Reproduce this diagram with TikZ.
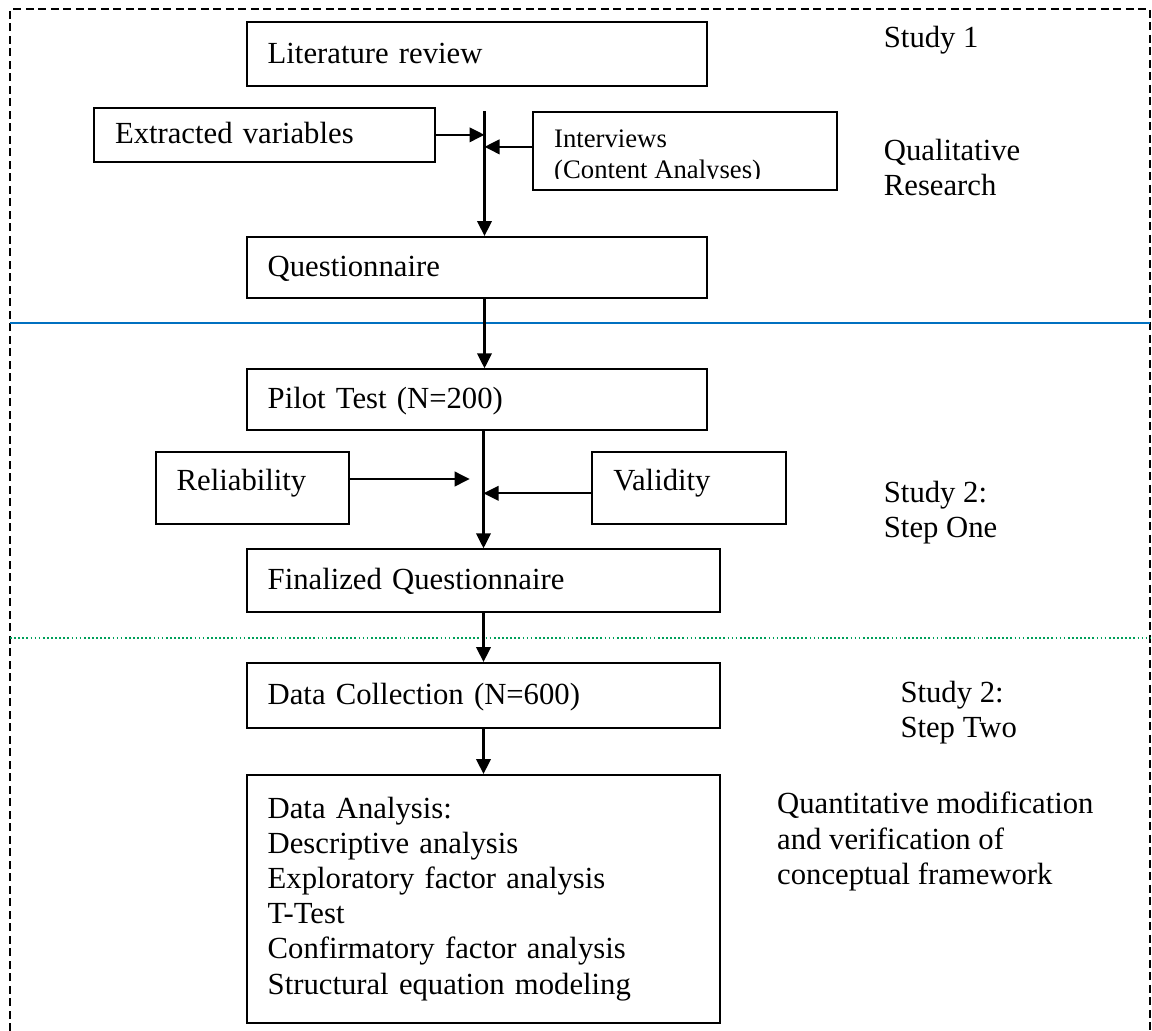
\documentclass[tikz,border=0pt]{standalone}
\usepackage{fontspec}
\setmainfont{Liberation Serif}
\usetikzlibrary{arrows.meta}
\newcommand\mainfs{\fontsize{30.7}{35.2}\selectfont}
\newcommand\smallfs{\fontsize{26.7}{31.7}\selectfont}
\definecolor{splitblue}{RGB}{0,112,192}
\definecolor{splitgreen}{RGB}{0,160,90}
\begin{document}
\begin{tikzpicture}[x=1pt,y=-1pt,
  box/.style={draw, line width=2pt, rectangle, inner xsep=21pt, inner ysep=0pt,
    align=left, text height=25pt, text depth=7pt, font=\mainfs},
  boxm/.style={draw, line width=2pt, rectangle, inner xsep=21pt, inner ysep=0pt,
    align=left, font=\mainfs},
  lbl/.style={inner sep=0pt, anchor=west, align=left, font=\mainfs},
  arr/.style={line width=2.2pt, -{Triangle[length=15pt,width=14.5pt]}},
  border/.style={line width=1.7pt, dash pattern=on 8pt off 4.5pt},
  blueline/.style={line width=2.2pt, draw=splitblue},
  greenline/.style={line width=1.7pt, draw=splitgreen, dash pattern=on 1.7pt off 2.4pt}
]
\useasboundingbox (0,0) rectangle (1152,1031);

% outer dashed frame (open at the bottom)
\draw[border] (10,1031) -- (10,9.3) -- (1150.3,9.3) -- (1150.3,1031);

% separators
\coordinate (bl) at (10,323.3);
\coordinate (br) at (1150.3,323.3);
\coordinate (gl) at (10,637.7);
\coordinate (gr) at (1150.3,637.7);
\draw[blueline] (bl) -- (br);
\draw[greenline] (gl) -- (gr);

% boxes
\node[box, minimum width=460.6pt, minimum height=63.7pt, text width=418.6pt] (lr) at (477,54.2) {Literature review};
\node[box, minimum width=340.7pt, minimum height=54.3pt, text width=298.7pt] (ev) at (264.35,134.85) {Extracted variables};
\node[box, minimum width=304.3pt, minimum height=78.3pt, text width=262.3pt] (iv) at (684.85,150.85) {};
\begin{scope}
  \clip (533.7,112.7) rectangle (836,178.5);
  \node[inner sep=0pt, anchor=west, align=left, font=\smallfs] (ivt) at (554,157) {Interviews\\(Content Analyses)};
\end{scope}
\node[box, minimum width=460.6pt, minimum height=61.3pt, text width=418.6pt] (q) at (477,267.65) {Questionnaire};
\node[box, minimum width=460.6pt, minimum height=60.7pt, text width=418.6pt] (p) at (477,399.65) {Pilot Test (N=200)};
\node[box, minimum width=193.6pt, minimum height=72.6pt, text width=151.6pt, text height=21pt, text depth=17pt] (rel) at (252.5,488) {Reliability};
\node[box, minimum width=194pt, minimum height=72.6pt, text width=152pt, text height=21pt, text depth=17pt] (val) at (689.3,488) {Validity};
\node[box, minimum width=473pt, minimum height=62.4pt, text width=431pt] (fq) at (483.2,580.5) {Finalized Questionnaire};
\node[box, minimum width=473pt, minimum height=64.7pt, text width=431pt] (dc) at (483.2,695.35) {Data Collection (N=600)};
\node[boxm, minimum width=473pt, minimum height=247.7pt, text width=431pt] (da) at (483.2,898.85) {Data Analysis:\\Descriptive analysis\\Exploratory factor analysis\\T-Test\\Confirmatory factor analysis\\Structural equation modeling};

% right-hand labels
\node[lbl] (s1) at (883.7,40.5) {Study 1};
\node[lbl] (qr) at (883.7,167.5) {Qualitative\\Research};
\node[lbl] (s2a) at (883.7,513) {Study 2:\\Step One};
\node[lbl] (s2b) at (900.3,712.5) {Study 2:\\Step Two};
\node[lbl] (qm) at (777,841.5) {Quantitative modification\\and verification of\\conceptual framework};

% connectors
\coordinate (j1) at (484.5,111);
\coordinate (j2) at (483.5,430);
\coordinate (rt) at (469.7,479);
\draw[arr] (j1) -- (j1 |- q.north);
\draw[arr] (ev.east) -- (ev.east -| j1);
\draw[arr] ([yshift=4pt]iv.west) -- ([yshift=4pt]iv.west -| j1);
\draw[arr] (j1 |- q.south) -- (j1 |- p.north);
\draw[arr] (j2 |- p.south) -- (j2 |- fq.north);
\draw[arr] ([yshift=9pt]rel.east) -- (rt);
\draw[arr] ([yshift=-5.3pt]val.west) -- ([yshift=-5.3pt]val.west -| j2);
\draw[arr] (j2 |- fq.south) -- (j2 |- dc.north);
\draw[arr] (j2 |- dc.south) -- (j2 |- da.north);
\end{tikzpicture}
\end{document}
